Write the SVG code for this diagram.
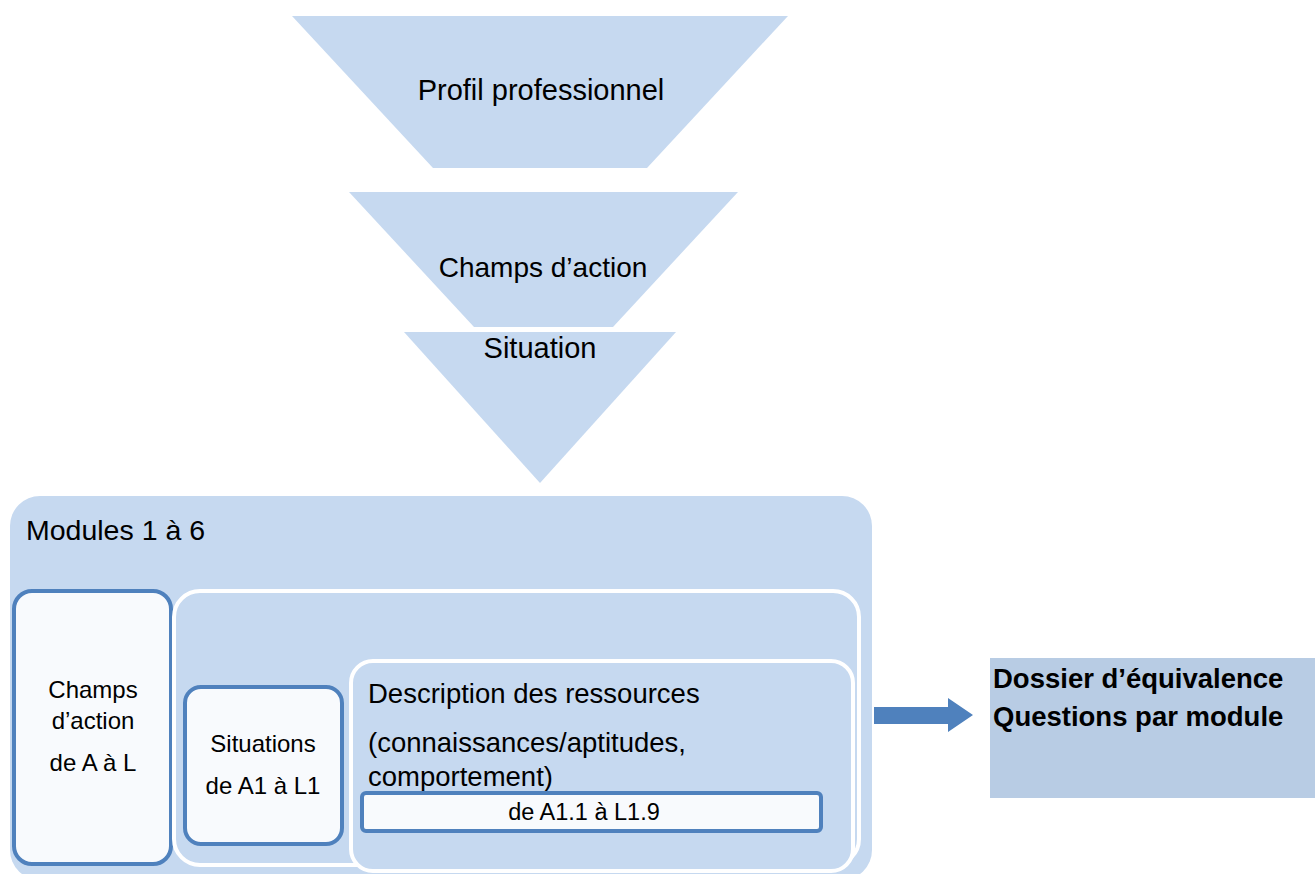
<svg xmlns="http://www.w3.org/2000/svg" width="1315" height="874" viewBox="0 0 1315 874">
<style>
.t{font-family:"Liberation Sans",Arial,sans-serif;fill:#000}
.tri{fill:#c6d9f0}
.blue{fill:#f8fafd;stroke:#4f81bd;stroke-width:4}
.white{fill:#c6d9f0;stroke:#ffffff;stroke-width:4}
</style>
<rect width="1315" height="874" fill="#ffffff"/>
<g id="profil">
<polygon class="tri" points="292,16 788,16 647,168 433,168"/>
<text class="t" x="541" y="100" font-size="29" text-anchor="middle">Profil professionnel</text>
</g>
<g id="champs">
<polygon class="tri" points="349,192 738,192 613,327 474,327"/>
<text class="t" x="543" y="277" font-size="28" text-anchor="middle">Champs d’action</text>
</g>
<g id="situation">
<polygon class="tri" points="404,332 676,332 540,483"/>
<text class="t" x="540" y="358" font-size="29" text-anchor="middle">Situation</text>
</g>
<g id="modules">
<rect x="10" y="496" width="862" height="384" rx="30" fill="#c6d9f0"/>
<text class="t" x="26" y="540" font-size="28.5">Modules 1 à 6</text>
</g>
<g id="champs-box">
<rect class="blue" x="14" y="591" width="157" height="273" rx="18"/>
<text class="t" x="93" y="698" font-size="24" text-anchor="middle">Champs</text>
<text class="t" x="93" y="729" font-size="24" text-anchor="middle">d’action</text>
<text class="t" x="93" y="771" font-size="24" text-anchor="middle">de A à L</text>
</g>
<g id="container">
<rect class="white" x="174" y="591" width="685" height="274" rx="26"/>
</g>
<g id="situations-box">
<rect class="blue" x="185" y="687" width="157" height="157" rx="16"/>
<text class="t" x="263" y="752" font-size="24" text-anchor="middle">Situations</text>
<text class="t" x="263" y="794" font-size="24" text-anchor="middle">de A1 à L1</text>
</g>
<g id="description">
<rect class="white" x="351" y="661" width="502" height="210" rx="22"/>
<text class="t" x="368" y="703" font-size="27.5">Description des ressources</text>
<text class="t" x="368" y="752" font-size="27.5">(connaissances/aptitudes,</text>
<text class="t" x="368" y="786" font-size="27.5">comportement)</text>
</g>
<g id="range">
<rect class="blue" x="362" y="793" width="459" height="38" rx="4"/>
<text class="t" x="584" y="820" font-size="23.5" text-anchor="middle">de A1.1 à L1.9</text>
</g>
<g id="connectors">
<polygon points="874,707 948,707 948,698 973,715 948,732 948,724 874,724" fill="#4f81bd"/>
</g>
<g id="dossier">
<rect x="990" y="658" width="325" height="140" fill="#b8cce4"/>
<text class="t" x="993" y="688" font-size="27.5" font-weight="bold">Dossier d’équivalence</text>
<text class="t" x="993" y="726" font-size="27.5" font-weight="bold">Questions par module</text>
</g>
</svg>
